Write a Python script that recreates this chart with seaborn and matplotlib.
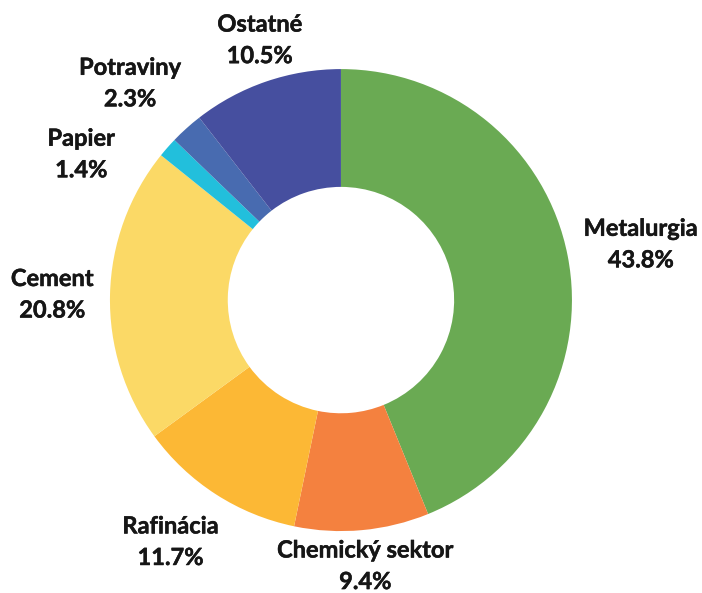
import numpy as np
import seaborn as sns
import matplotlib.pyplot as plt
import matplotlib.patheffects as pe

# datos del grafico (porcentajes por sector)
sectores = ["Metalurgia", "Chemický sektor", "Rafinácia", "Cement", "Papier", "Potraviny", "Ostatné"]
podiel = [43.8, 9.4, 11.7, 20.8, 1.4, 2.3, 10.5]
etiquetas = ["43.8%", "9.4%", "11.7%", "20.8%", "1.4%", "2.3%", "10.5%"]

colores = ["#6aaa53", "#f4813f", "#fcb835", "#fbd966", "#22bfdc", "#486bb0", "#464f9f"]
# distancia radial y giro (grados) de cada etiqueta
dist_etiqueta = [1.32, 1.155, 1.28, 1.25, 1.29, 1.31, 1.18]
giro_etiqueta = [-0.5, 0, -2.4, 0.2, 12, 2.2, -1.6]

sns.set_theme(style="white")
plt.rcParams["font.family"] = ["Lato", "DejaVu Sans"]

fig = plt.figure(figsize=(7.02, 5.93), dpi=100)
ax = fig.add_axes([0, 0, 1, 1])

wedges, _ = ax.pie(
    podiel,
    colors=sns.color_palette(colores),
    startangle=90,
    counterclock=False,
    radius=1,
    wedgeprops=dict(width=0.51, edgecolor="none", linewidth=0),
)

for w, nombre, pct, d, g in zip(wedges, sectores, etiquetas, dist_etiqueta, giro_etiqueta):
    ang = np.deg2rad((w.theta1 + w.theta2) / 2 + g)
    ax.text(d * np.cos(ang), d * np.sin(ang), f"{nombre}\n{pct}",
            ha="center", va="center", fontsize=17, fontweight="bold",
            color="#161616", linespacing=1.45,
            path_effects=[pe.withStroke(linewidth=0.35, foreground="#161616")])

ax.set_xlim(-1.476, 1.563)
ax.set_ylim(-1.268, 1.299)
ax.set_aspect("equal")
ax.axis("off")

plt.savefig("out.png", dpi=100)
